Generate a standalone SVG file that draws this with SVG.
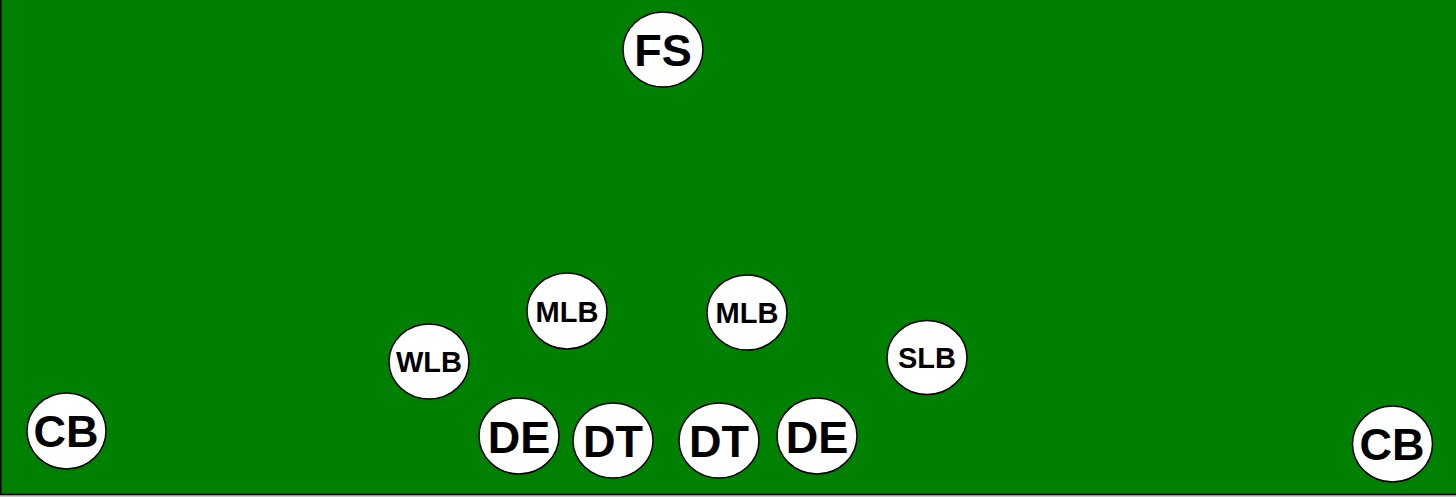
<svg xmlns="http://www.w3.org/2000/svg" width="1456" height="497" viewBox="0 0 1456 497">
<style>
.p{fill:#fff;stroke:#000;stroke-width:1.5}
.t{font-family:"Liberation Sans",Arial,sans-serif;font-weight:bold;text-anchor:middle;fill:#000}
.b{font-size:45px}
.s{font-size:29px}
</style>
<rect x="0" y="0" width="1456" height="497" fill="#c8c8c8"/>
<rect x="0.75" y="-2" width="1460" height="496.5" fill="#008000" stroke="#000" stroke-width="1.5"/>
<g id="connectors"/>
<g id="FS"><ellipse class="p" cx="663" cy="49.5" rx="40" ry="37.5"/><text class="t b" x="663" y="65.5">FS</text></g>
<g id="CB-left"><ellipse class="p" cx="66.5" cy="431" rx="39.5" ry="38"/><text class="t b" x="66" y="447">CB</text></g>
<g id="CB-right"><ellipse class="p" cx="1392.5" cy="444" rx="40" ry="38"/><text class="t b" x="1392" y="460">CB</text></g>
<g id="WLB"><ellipse class="p" cx="429" cy="361.5" rx="40" ry="37.5"/><text class="t s" x="429" y="372">WLB</text></g>
<g id="MLB-left"><ellipse class="p" cx="567" cy="311" rx="40" ry="38"/><text class="t s" x="567" y="321.5">MLB</text></g>
<g id="MLB-right"><ellipse class="p" cx="747" cy="312.5" rx="40" ry="37.5"/><text class="t s" x="747" y="323">MLB</text></g>
<g id="SLB"><ellipse class="p" cx="927" cy="357.5" rx="40" ry="37"/><text class="t s" x="927" y="368">SLB</text></g>
<g id="DE-left"><ellipse class="p" cx="519" cy="436" rx="40" ry="38"/><text class="t b" x="519" y="452.5">DE</text></g>
<g id="DT-left"><ellipse class="p" cx="613" cy="440.5" rx="40" ry="37.5"/><text class="t b" x="613" y="457">DT</text></g>
<g id="DT-right"><ellipse class="p" cx="719" cy="440.5" rx="40" ry="37.5"/><text class="t b" x="719" y="457">DT</text></g>
<g id="DE-right"><ellipse class="p" cx="817" cy="436" rx="40" ry="38"/><text class="t b" x="817" y="452.5">DE</text></g>
</svg>
